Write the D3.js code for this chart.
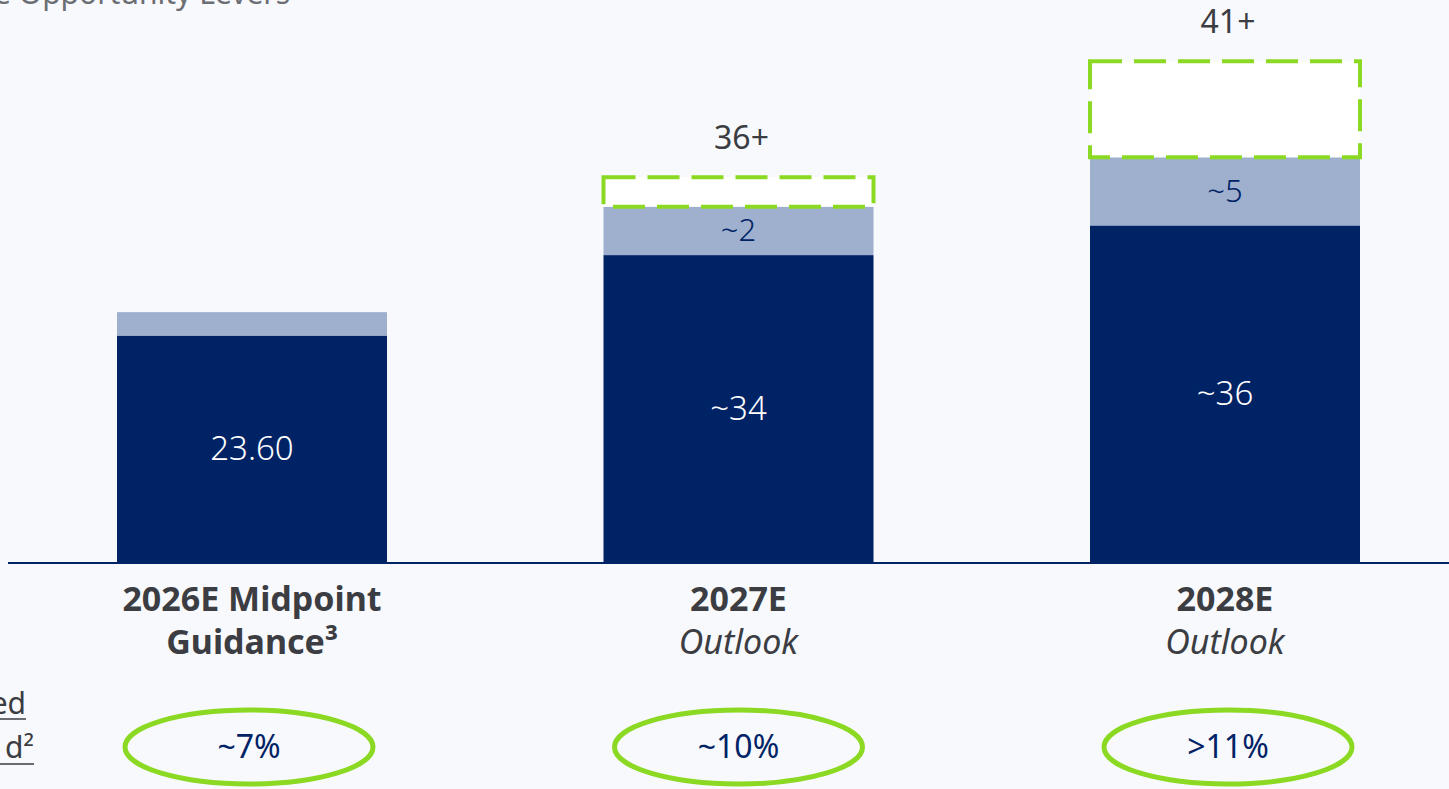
<!DOCTYPE html>
<html>
<head>
<meta charset="utf-8">
<script src="https://cdn.jsdelivr.net/npm/d3@7"></script>
<style>
  html, body { margin: 0; padding: 0; background: #f8f9fd; }
  svg { display: block; }
</style>
</head>
<body>
<svg id="chart" width="1449" height="789"></svg>
<script>
// data (bar heights are estimates, labels as printed)
const categories = ['2026E', '2027E', '2028E']
const catLine1 = ['2026E Midpoint', '2027E', '2028E']
const catLine2 = ['Guidance³', 'Outlook', 'Outlook']
const baseValues = [23.8, 32.3, 35.4]
const leverValues = [2.5, 5.1, 7.2]
const upsideValues = [0, 3.1, 10.1]
const baseLabels = ['23.60', '~34', '~36']
const leverLabels = ['', '~2', '~5']
const totalLabels = ['', '36+', '41+']
const growthLabels = ['~7%', '~10%', '>11%']

const navy = '#002366'
const lightBlue = '#9eb0cd'
const green = '#8bd922'
const textGray = '#3b3d42'
const font = '"Noto Sans", "Open Sans", sans-serif'

const svg = d3.select('#chart')
const width = 1449
const baseY = 562

const x = d3.scaleBand()
  .domain(categories)
  .range([117, 1360])
  .paddingInner(0.445)
  .paddingOuter(0)

// roughly 9.5 px per unit
const y = d3.scaleLinear().domain([0, 50]).range([baseY, 87])

const rows = categories.map((c, i) => {
  const b = baseValues[i]
  const l = leverValues[i]
  const u = upsideValues[i]
  return { c, i, b0: 0, b1: b, l0: b, l1: b + l, u0: b + l, u1: b + l + u }
})

// light "levers" segment
svg.append('g')
  .selectAll('rect')
  .data(rows)
  .join('rect')
  .attr('x', (d) => x(d.c))
  .attr('width', x.bandwidth())
  .attr('y', (d) => y(d.l1))
  .attr('height', (d) => y(d.l0) - y(d.l1))
  .attr('fill', lightBlue)

// dark base segment
svg.append('g')
  .selectAll('rect')
  .data(rows)
  .join('rect')
  .attr('x', (d) => x(d.c))
  .attr('width', x.bandwidth())
  .attr('y', (d) => y(d.b1))
  .attr('height', (d) => y(d.b0) - y(d.b1))
  .attr('fill', navy)

// dashed upside boxes
svg.append('g')
  .selectAll('rect')
  .data(rows.filter((d) => d.u1 > d.u0))
  .join('rect')
  .attr('x', (d) => x(d.c))
  .attr('width', x.bandwidth())
  .attr('y', (d) => y(d.u1))
  .attr('height', (d) => y(d.u0) - y(d.u1))
  .attr('fill', '#ffffff')
  .attr('stroke', green)
  .attr('stroke-width', 4)
  .attr('stroke-dasharray', '32,12')

// baseline
svg.append('line')
  .attr('x1', 8).attr('x2', width)
  .attr('y1', baseY + 1).attr('y2', baseY + 1)
  .attr('stroke', navy)
  .attr('stroke-width', 2)

const mid = (d) => x(d.c) + x.bandwidth() / 2

// base value labels
svg.append('g')
  .selectAll('text')
  .data(rows)
  .join('text')
  .attr('x', mid)
  .attr('y', (d) => (y(d.b0) + y(d.b1)) / 2 + 11)
  .attr('text-anchor', 'middle')
  .attr('font-family', font)
  .attr('font-weight', 300)
  .attr('font-size', 33)
  .attr('fill', '#ffffff')
  .text((d) => baseLabels[d.i])

// lever labels
svg.append('g')
  .selectAll('text')
  .data(rows)
  .join('text')
  .attr('x', mid)
  .attr('y', (d) => (y(d.l0) + y(d.l1)) / 2 + 10)
  .attr('text-anchor', 'middle')
  .attr('font-family', font)
  .attr('font-weight', 300)
  .attr('font-size', 31)
  .attr('fill', navy)
  .text((d) => leverLabels[d.i])

// totals above bars
svg.append('g')
  .selectAll('text')
  .data(rows)
  .join('text')
  .attr('x', (d) => mid(d) + 3)
  .attr('y', (d) => y(d.u1) - 28)
  .attr('text-anchor', 'middle')
  .attr('font-family', font)
  .attr('font-size', 32)
  .attr('fill', textGray)
  .text((d) => totalLabels[d.i])

// category labels
const cats = svg.append('g')
  .selectAll('g')
  .data(rows)
  .join('g')
  .attr('transform', (d) => `translate(${mid(d)},0)`)

cats.append('text')
  .attr('y', 611)
  .attr('text-anchor', 'middle')
  .attr('font-family', font)
  .attr('font-weight', 700)
  .attr('font-size', 34)
  .attr('fill', textGray)
  .text((d) => catLine1[d.i])

cats.append('text')
  .attr('y', 654)
  .attr('text-anchor', 'middle')
  .attr('font-family', font)
  .attr('font-weight', (d) => (d.i === 0 ? 700 : 400))
  .attr('font-style', (d) => (d.i === 0 ? 'normal' : 'italic'))
  .attr('font-size', 34)
  .attr('fill', textGray)
  .text((d) => catLine2[d.i])

// growth ellipses
const growth = svg.append('g')
  .selectAll('g')
  .data(rows)
  .join('g')
  .attr('transform', (d) => `translate(${mid(d) + (d.i - 1) * 3},747)`)

growth.append('ellipse')
  .attr('rx', 124)
  .attr('ry', 37)
  .attr('fill', 'none')
  .attr('stroke', green)
  .attr('stroke-width', 5)

growth.append('text')
  .attr('y', 11)
  .attr('text-anchor', 'middle')
  .attr('font-family', font)
  .attr('font-size', 32)
  .attr('fill', navy)
  .text((d) => growthLabels[d.i])

// cropped slide text at the edges
svg.append('text')
  .attr('x', -6)
  .attr('y', 4)
  .attr('font-family', font)
  .attr('font-size', 30)
  .attr('fill', '#6b6e73')
  .text('e Opportunity Levers')

const leftNote = svg.append('g')
  .attr('font-family', font)
  .attr('font-size', 30)
  .attr('fill', textGray)
leftNote.append('text').attr('x', 26).attr('y', 714).attr('text-anchor', 'end').text('ed')
leftNote.append('text').attr('x', 34).attr('y', 758).attr('text-anchor', 'end').text('d²')
leftNote.append('line').attr('x1', 0).attr('x2', 26).attr('y1', 719).attr('y2', 719)
  .attr('stroke', textGray).attr('stroke-width', 1.5)
leftNote.append('line').attr('x1', 0).attr('x2', 34).attr('y1', 764).attr('y2', 764)
  .attr('stroke', textGray).attr('stroke-width', 1.5)
</script>
</body>
</html>
